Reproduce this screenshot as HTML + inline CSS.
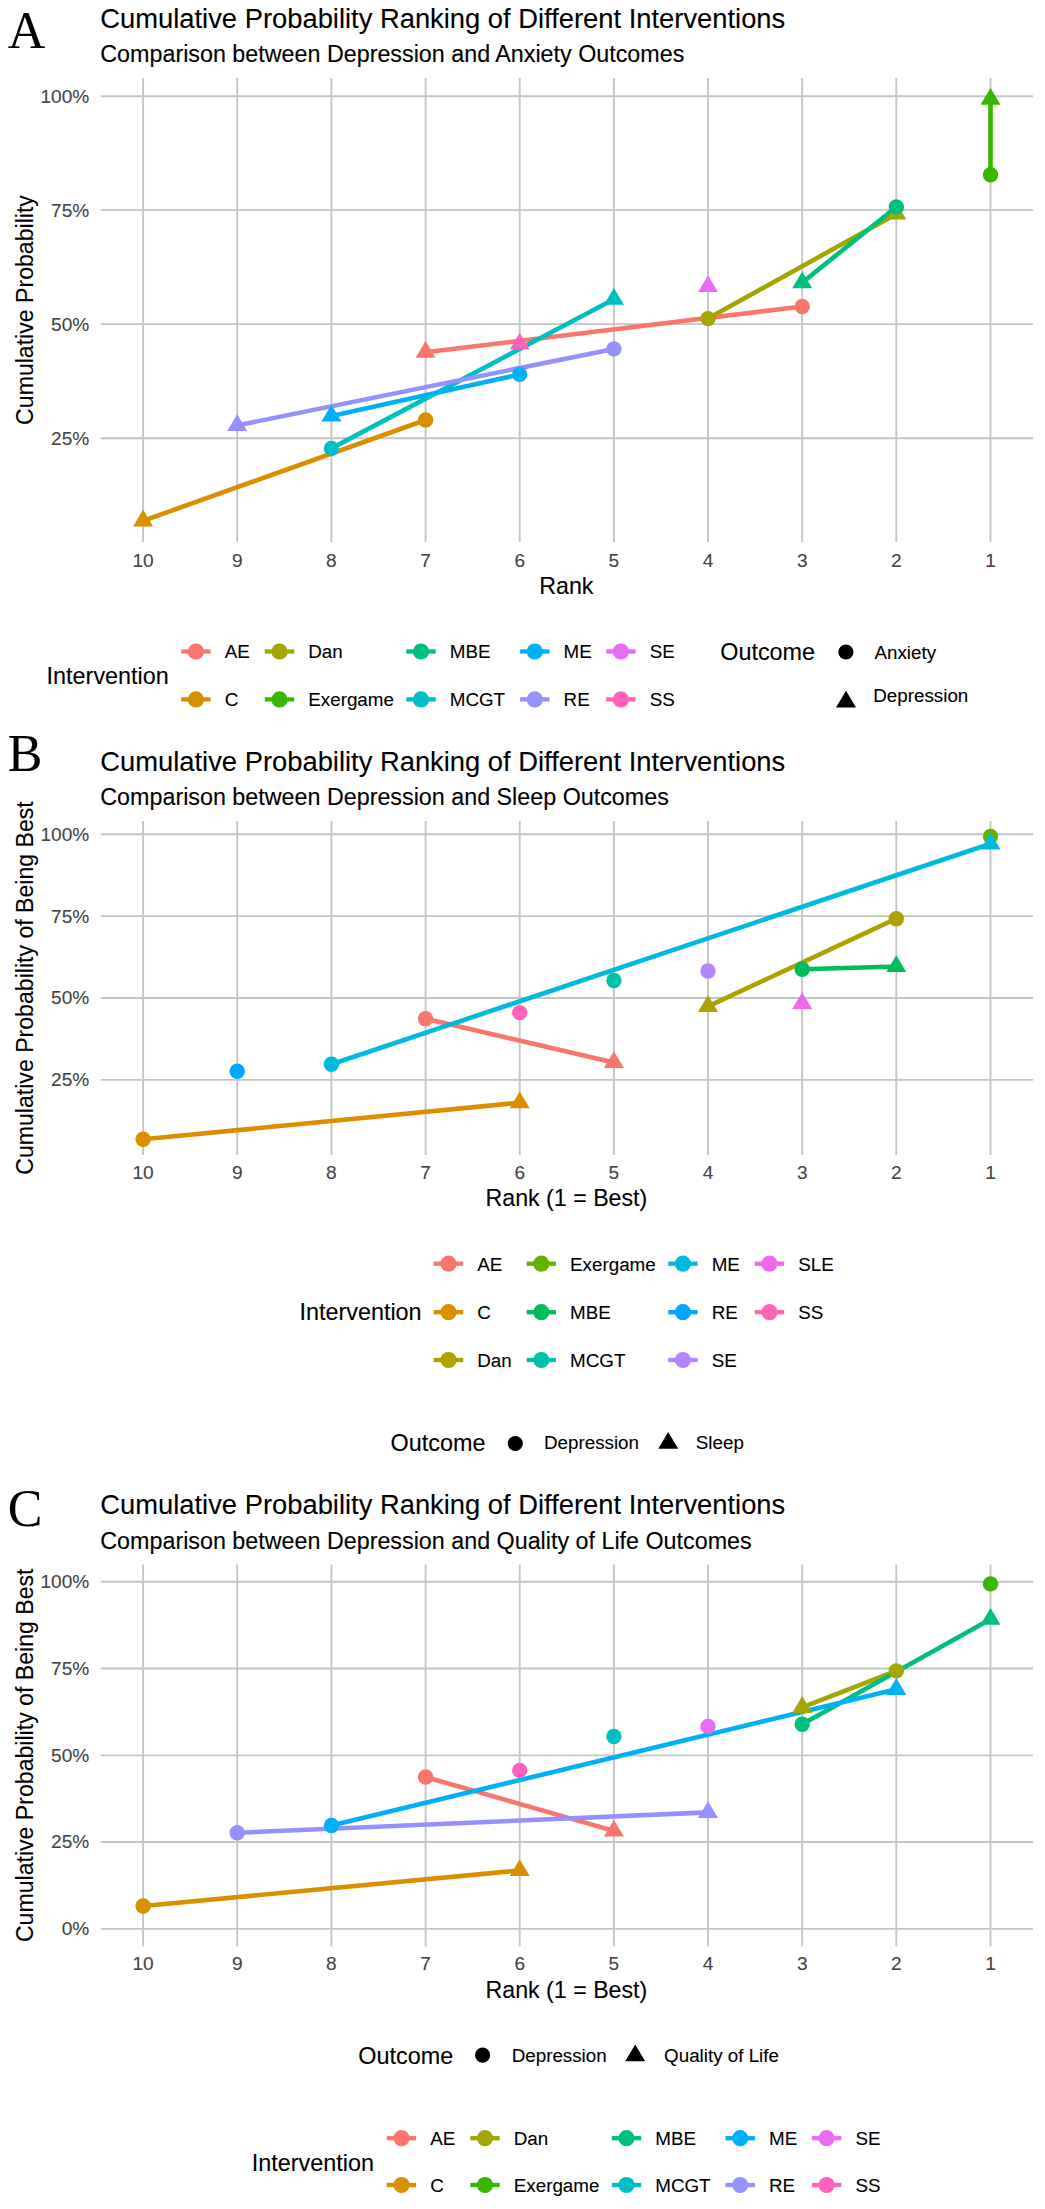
<!DOCTYPE html>
<html><head><meta charset="utf-8"><title>Cumulative Probability Ranking</title>
<style>html,body{margin:0;padding:0;background:#fff;}svg{display:block;}</style></head>
<body><svg width="1045" height="2209" viewBox="0 0 1045 2209">
<rect x="0" y="0" width="1045" height="2209" fill="#fff"/>
<text x="7.8" y="47.7" font-family="'Liberation Serif', serif" font-size="52" text-anchor="start" fill="#000" stroke="#000" stroke-width="0.05" >A</text>
<text x="100.3" y="27.8" font-family="'Liberation Sans', sans-serif" font-size="27.35" text-anchor="start" fill="#000" stroke="#000" stroke-width="0.1" >Cumulative Probability Ranking of Different Interventions</text>
<text x="100.3" y="61.5" font-family="'Liberation Sans', sans-serif" font-size="23.3" text-anchor="start" fill="#000" stroke="#000" stroke-width="0.12" >Comparison between Depression and Anxiety Outcomes</text>
<line x1="990.5" y1="78" x2="990.5" y2="542" stroke="#c5c5c5" stroke-width="1.9"/>
<line x1="896.3" y1="78" x2="896.3" y2="542" stroke="#c5c5c5" stroke-width="1.9"/>
<line x1="802.2" y1="78" x2="802.2" y2="542" stroke="#c5c5c5" stroke-width="1.9"/>
<line x1="708.0" y1="78" x2="708.0" y2="542" stroke="#c5c5c5" stroke-width="1.9"/>
<line x1="613.9" y1="78" x2="613.9" y2="542" stroke="#c5c5c5" stroke-width="1.9"/>
<line x1="519.7" y1="78" x2="519.7" y2="542" stroke="#c5c5c5" stroke-width="1.9"/>
<line x1="425.6" y1="78" x2="425.6" y2="542" stroke="#c5c5c5" stroke-width="1.9"/>
<line x1="331.4" y1="78" x2="331.4" y2="542" stroke="#c5c5c5" stroke-width="1.9"/>
<line x1="237.2" y1="78" x2="237.2" y2="542" stroke="#c5c5c5" stroke-width="1.9"/>
<line x1="143.1" y1="78" x2="143.1" y2="542" stroke="#c5c5c5" stroke-width="1.9"/>
<line x1="100.8" y1="96.2" x2="1033" y2="96.2" stroke="#c5c5c5" stroke-width="1.9"/>
<text x="89.3" y="102.6" font-family="'Liberation Sans', sans-serif" font-size="19.1" text-anchor="end" fill="#444444" stroke="#444444" stroke-width="0.1" >100%</text>
<line x1="100.8" y1="210.1" x2="1033" y2="210.1" stroke="#c5c5c5" stroke-width="1.9"/>
<text x="89.3" y="216.5" font-family="'Liberation Sans', sans-serif" font-size="19.1" text-anchor="end" fill="#444444" stroke="#444444" stroke-width="0.1" >75%</text>
<line x1="100.8" y1="324.1" x2="1033" y2="324.1" stroke="#c5c5c5" stroke-width="1.9"/>
<text x="89.3" y="330.5" font-family="'Liberation Sans', sans-serif" font-size="19.1" text-anchor="end" fill="#444444" stroke="#444444" stroke-width="0.1" >50%</text>
<line x1="100.8" y1="438.2" x2="1033" y2="438.2" stroke="#c5c5c5" stroke-width="1.9"/>
<text x="89.3" y="444.6" font-family="'Liberation Sans', sans-serif" font-size="19.1" text-anchor="end" fill="#444444" stroke="#444444" stroke-width="0.1" >25%</text>
<text x="990.5" y="567.0" font-family="'Liberation Sans', sans-serif" font-size="19.1" text-anchor="middle" fill="#444444" stroke="#444444" stroke-width="0.1" >1</text>
<text x="896.3" y="567.0" font-family="'Liberation Sans', sans-serif" font-size="19.1" text-anchor="middle" fill="#444444" stroke="#444444" stroke-width="0.1" >2</text>
<text x="802.2" y="567.0" font-family="'Liberation Sans', sans-serif" font-size="19.1" text-anchor="middle" fill="#444444" stroke="#444444" stroke-width="0.1" >3</text>
<text x="708.0" y="567.0" font-family="'Liberation Sans', sans-serif" font-size="19.1" text-anchor="middle" fill="#444444" stroke="#444444" stroke-width="0.1" >4</text>
<text x="613.9" y="567.0" font-family="'Liberation Sans', sans-serif" font-size="19.1" text-anchor="middle" fill="#444444" stroke="#444444" stroke-width="0.1" >5</text>
<text x="519.7" y="567.0" font-family="'Liberation Sans', sans-serif" font-size="19.1" text-anchor="middle" fill="#444444" stroke="#444444" stroke-width="0.1" >6</text>
<text x="425.6" y="567.0" font-family="'Liberation Sans', sans-serif" font-size="19.1" text-anchor="middle" fill="#444444" stroke="#444444" stroke-width="0.1" >7</text>
<text x="331.4" y="567.0" font-family="'Liberation Sans', sans-serif" font-size="19.1" text-anchor="middle" fill="#444444" stroke="#444444" stroke-width="0.1" >8</text>
<text x="237.2" y="567.0" font-family="'Liberation Sans', sans-serif" font-size="19.1" text-anchor="middle" fill="#444444" stroke="#444444" stroke-width="0.1" >9</text>
<text x="143.1" y="567.0" font-family="'Liberation Sans', sans-serif" font-size="19.1" text-anchor="middle" fill="#444444" stroke="#444444" stroke-width="0.1" >10</text>
<text x="566.4" y="593.5" font-family="'Liberation Sans', sans-serif" font-size="23.2" text-anchor="middle" fill="#000" stroke="#000" stroke-width="0.1" >Rank</text>
<text x="0" y="0" font-family="&quot;Liberation Sans&quot;, sans-serif" font-size="23.1" text-anchor="middle" fill="#000" stroke="#000" stroke-width="0.1" transform="translate(32.6,310) rotate(-90)">Cumulative Probability</text>
<line x1="425.6" y1="352.2" x2="802.2" y2="306.5" stroke="#F8766D" stroke-width="4.6" stroke-linecap="butt"/>
<line x1="143.1" y1="520.8" x2="425.6" y2="420.0" stroke="#D89000" stroke-width="4.6" stroke-linecap="butt"/>
<line x1="708.0" y1="318.6" x2="896.3" y2="213.9" stroke="#A3A500" stroke-width="4.6" stroke-linecap="butt"/>
<line x1="990.5" y1="174.8" x2="990.5" y2="99.2" stroke="#39B600" stroke-width="4.6" stroke-linecap="butt"/>
<line x1="802.2" y1="282.6" x2="896.3" y2="207.0" stroke="#00BF7D" stroke-width="4.6" stroke-linecap="butt"/>
<line x1="331.4" y1="448.4" x2="613.9" y2="299.2" stroke="#00BFC4" stroke-width="4.6" stroke-linecap="butt"/>
<line x1="331.4" y1="416.0" x2="519.7" y2="374.4" stroke="#00B0F6" stroke-width="4.6" stroke-linecap="butt"/>
<line x1="237.2" y1="425.4" x2="613.9" y2="348.9" stroke="#9590FF" stroke-width="4.6" stroke-linecap="butt"/>
<path d="M425.6,341.0 L435.6,357.8 L415.6,357.8 Z" fill="#F8766D"/>
<circle cx="802.2" cy="306.5" r="7.7" fill="#F8766D"/>
<path d="M143.1,509.6 L153.1,526.4 L133.1,526.4 Z" fill="#D89000"/>
<circle cx="425.6" cy="420.0" r="7.7" fill="#D89000"/>
<circle cx="708.0" cy="318.6" r="7.7" fill="#A3A500"/>
<path d="M896.3,202.7 L906.3,219.5 L886.3,219.5 Z" fill="#A3A500"/>
<circle cx="990.5" cy="174.8" r="7.7" fill="#39B600"/>
<path d="M990.5,88.0 L1000.5,104.8 L980.5,104.8 Z" fill="#39B600"/>
<path d="M802.2,271.4 L812.2,288.2 L792.2,288.2 Z" fill="#00BF7D"/>
<circle cx="896.3" cy="207.0" r="7.7" fill="#00BF7D"/>
<circle cx="331.4" cy="448.4" r="7.7" fill="#00BFC4"/>
<path d="M613.9,288.0 L623.9,304.8 L603.9,304.8 Z" fill="#00BFC4"/>
<path d="M331.4,404.8 L341.4,421.6 L321.4,421.6 Z" fill="#00B0F6"/>
<circle cx="519.7" cy="374.4" r="7.7" fill="#00B0F6"/>
<path d="M237.2,414.2 L247.2,431.0 L227.2,431.0 Z" fill="#9590FF"/>
<circle cx="613.9" cy="348.9" r="7.7" fill="#9590FF"/>
<path d="M708.0,275.2 L718.0,292.0 L698.0,292.0 Z" fill="#E76BF3"/>
<path d="M519.7,332.8 L529.7,349.6 L509.7,349.6 Z" fill="#FF62BC"/>
<text x="46.6" y="683.8" font-family="'Liberation Sans', sans-serif" font-size="23.4" text-anchor="start" fill="#000" stroke="#000" stroke-width="0.1" >Intervention</text>
<line x1="181.2" y1="651.5" x2="210.6" y2="651.5" stroke="#F8766D" stroke-width="4.3" stroke-linecap="butt"/>
<circle cx="195.9" cy="651.5" r="8.1" fill="#F8766D"/>
<text x="224.7" y="658.3" font-family="'Liberation Sans', sans-serif" font-size="18.8" text-anchor="start" fill="#000" stroke="#000" stroke-width="0.1" >AE</text>
<line x1="181.2" y1="699.4" x2="210.6" y2="699.4" stroke="#D89000" stroke-width="4.3" stroke-linecap="butt"/>
<circle cx="195.9" cy="699.4" r="8.1" fill="#D89000"/>
<text x="224.7" y="706.2" font-family="'Liberation Sans', sans-serif" font-size="18.8" text-anchor="start" fill="#000" stroke="#000" stroke-width="0.1" >C</text>
<line x1="264.8" y1="651.5" x2="294.2" y2="651.5" stroke="#A3A500" stroke-width="4.3" stroke-linecap="butt"/>
<circle cx="279.5" cy="651.5" r="8.1" fill="#A3A500"/>
<text x="308.3" y="658.3" font-family="'Liberation Sans', sans-serif" font-size="18.8" text-anchor="start" fill="#000" stroke="#000" stroke-width="0.1" >Dan</text>
<line x1="264.8" y1="699.4" x2="294.2" y2="699.4" stroke="#39B600" stroke-width="4.3" stroke-linecap="butt"/>
<circle cx="279.5" cy="699.4" r="8.1" fill="#39B600"/>
<text x="308.3" y="706.2" font-family="'Liberation Sans', sans-serif" font-size="18.8" text-anchor="start" fill="#000" stroke="#000" stroke-width="0.1" >Exergame</text>
<line x1="406.3" y1="651.5" x2="435.7" y2="651.5" stroke="#00BF7D" stroke-width="4.3" stroke-linecap="butt"/>
<circle cx="421.0" cy="651.5" r="8.1" fill="#00BF7D"/>
<text x="449.8" y="658.3" font-family="'Liberation Sans', sans-serif" font-size="18.8" text-anchor="start" fill="#000" stroke="#000" stroke-width="0.1" >MBE</text>
<line x1="406.3" y1="699.4" x2="435.7" y2="699.4" stroke="#00BFC4" stroke-width="4.3" stroke-linecap="butt"/>
<circle cx="421.0" cy="699.4" r="8.1" fill="#00BFC4"/>
<text x="449.8" y="706.2" font-family="'Liberation Sans', sans-serif" font-size="18.8" text-anchor="start" fill="#000" stroke="#000" stroke-width="0.1" >MCGT</text>
<line x1="520.1" y1="651.5" x2="549.5" y2="651.5" stroke="#00B0F6" stroke-width="4.3" stroke-linecap="butt"/>
<circle cx="534.8" cy="651.5" r="8.1" fill="#00B0F6"/>
<text x="563.6" y="658.3" font-family="'Liberation Sans', sans-serif" font-size="18.8" text-anchor="start" fill="#000" stroke="#000" stroke-width="0.1" >ME</text>
<line x1="520.1" y1="699.4" x2="549.5" y2="699.4" stroke="#9590FF" stroke-width="4.3" stroke-linecap="butt"/>
<circle cx="534.8" cy="699.4" r="8.1" fill="#9590FF"/>
<text x="563.6" y="706.2" font-family="'Liberation Sans', sans-serif" font-size="18.8" text-anchor="start" fill="#000" stroke="#000" stroke-width="0.1" >RE</text>
<line x1="606.2" y1="651.5" x2="635.6" y2="651.5" stroke="#E76BF3" stroke-width="4.3" stroke-linecap="butt"/>
<circle cx="620.9" cy="651.5" r="8.1" fill="#E76BF3"/>
<text x="649.7" y="658.3" font-family="'Liberation Sans', sans-serif" font-size="18.8" text-anchor="start" fill="#000" stroke="#000" stroke-width="0.1" >SE</text>
<line x1="606.2" y1="699.4" x2="635.6" y2="699.4" stroke="#FF62BC" stroke-width="4.3" stroke-linecap="butt"/>
<circle cx="620.9" cy="699.4" r="8.1" fill="#FF62BC"/>
<text x="649.7" y="706.2" font-family="'Liberation Sans', sans-serif" font-size="18.8" text-anchor="start" fill="#000" stroke="#000" stroke-width="0.1" >SS</text>
<text x="720.2" y="659.5" font-family="'Liberation Sans', sans-serif" font-size="23.4" text-anchor="start" fill="#000" stroke="#000" stroke-width="0.1" >Outcome</text>
<circle cx="845.9" cy="652.0" r="7.6" fill="#000"/>
<text x="874.5" y="659.0" font-family="'Liberation Sans', sans-serif" font-size="18.8" text-anchor="start" fill="#000" stroke="#000" stroke-width="0.1" >Anxiety</text>
<path d="M846.0,690.7 L856.0,707.5 L836.0,707.5 Z" fill="#000"/>
<text x="873.3" y="702.3" font-family="'Liberation Sans', sans-serif" font-size="18.8" text-anchor="start" fill="#000" stroke="#000" stroke-width="0.1" >Depression</text>
<text x="7.8" y="770.9" font-family="'Liberation Serif', serif" font-size="52" text-anchor="start" fill="#000" stroke="#000" stroke-width="0.05" >B</text>
<text x="100.3" y="770.5" font-family="'Liberation Sans', sans-serif" font-size="27.35" text-anchor="start" fill="#000" stroke="#000" stroke-width="0.1" >Cumulative Probability Ranking of Different Interventions</text>
<text x="100.3" y="805.0" font-family="'Liberation Sans', sans-serif" font-size="23.3" text-anchor="start" fill="#000" stroke="#000" stroke-width="0.12" >Comparison between Depression and Sleep Outcomes</text>
<line x1="990.5" y1="821" x2="990.5" y2="1155" stroke="#c5c5c5" stroke-width="1.9"/>
<line x1="896.3" y1="821" x2="896.3" y2="1155" stroke="#c5c5c5" stroke-width="1.9"/>
<line x1="802.2" y1="821" x2="802.2" y2="1155" stroke="#c5c5c5" stroke-width="1.9"/>
<line x1="708.0" y1="821" x2="708.0" y2="1155" stroke="#c5c5c5" stroke-width="1.9"/>
<line x1="613.9" y1="821" x2="613.9" y2="1155" stroke="#c5c5c5" stroke-width="1.9"/>
<line x1="519.7" y1="821" x2="519.7" y2="1155" stroke="#c5c5c5" stroke-width="1.9"/>
<line x1="425.6" y1="821" x2="425.6" y2="1155" stroke="#c5c5c5" stroke-width="1.9"/>
<line x1="331.4" y1="821" x2="331.4" y2="1155" stroke="#c5c5c5" stroke-width="1.9"/>
<line x1="237.2" y1="821" x2="237.2" y2="1155" stroke="#c5c5c5" stroke-width="1.9"/>
<line x1="143.1" y1="821" x2="143.1" y2="1155" stroke="#c5c5c5" stroke-width="1.9"/>
<line x1="100.8" y1="834.3" x2="1033" y2="834.3" stroke="#c5c5c5" stroke-width="1.9"/>
<text x="89.3" y="840.7" font-family="'Liberation Sans', sans-serif" font-size="19.1" text-anchor="end" fill="#444444" stroke="#444444" stroke-width="0.1" >100%</text>
<line x1="100.8" y1="916.1" x2="1033" y2="916.1" stroke="#c5c5c5" stroke-width="1.9"/>
<text x="89.3" y="922.5" font-family="'Liberation Sans', sans-serif" font-size="19.1" text-anchor="end" fill="#444444" stroke="#444444" stroke-width="0.1" >75%</text>
<line x1="100.8" y1="998.0" x2="1033" y2="998.0" stroke="#c5c5c5" stroke-width="1.9"/>
<text x="89.3" y="1004.4" font-family="'Liberation Sans', sans-serif" font-size="19.1" text-anchor="end" fill="#444444" stroke="#444444" stroke-width="0.1" >50%</text>
<line x1="100.8" y1="1079.9" x2="1033" y2="1079.9" stroke="#c5c5c5" stroke-width="1.9"/>
<text x="89.3" y="1086.3" font-family="'Liberation Sans', sans-serif" font-size="19.1" text-anchor="end" fill="#444444" stroke="#444444" stroke-width="0.1" >25%</text>
<text x="990.5" y="1179.2" font-family="'Liberation Sans', sans-serif" font-size="19.1" text-anchor="middle" fill="#444444" stroke="#444444" stroke-width="0.1" >1</text>
<text x="896.3" y="1179.2" font-family="'Liberation Sans', sans-serif" font-size="19.1" text-anchor="middle" fill="#444444" stroke="#444444" stroke-width="0.1" >2</text>
<text x="802.2" y="1179.2" font-family="'Liberation Sans', sans-serif" font-size="19.1" text-anchor="middle" fill="#444444" stroke="#444444" stroke-width="0.1" >3</text>
<text x="708.0" y="1179.2" font-family="'Liberation Sans', sans-serif" font-size="19.1" text-anchor="middle" fill="#444444" stroke="#444444" stroke-width="0.1" >4</text>
<text x="613.9" y="1179.2" font-family="'Liberation Sans', sans-serif" font-size="19.1" text-anchor="middle" fill="#444444" stroke="#444444" stroke-width="0.1" >5</text>
<text x="519.7" y="1179.2" font-family="'Liberation Sans', sans-serif" font-size="19.1" text-anchor="middle" fill="#444444" stroke="#444444" stroke-width="0.1" >6</text>
<text x="425.6" y="1179.2" font-family="'Liberation Sans', sans-serif" font-size="19.1" text-anchor="middle" fill="#444444" stroke="#444444" stroke-width="0.1" >7</text>
<text x="331.4" y="1179.2" font-family="'Liberation Sans', sans-serif" font-size="19.1" text-anchor="middle" fill="#444444" stroke="#444444" stroke-width="0.1" >8</text>
<text x="237.2" y="1179.2" font-family="'Liberation Sans', sans-serif" font-size="19.1" text-anchor="middle" fill="#444444" stroke="#444444" stroke-width="0.1" >9</text>
<text x="143.1" y="1179.2" font-family="'Liberation Sans', sans-serif" font-size="19.1" text-anchor="middle" fill="#444444" stroke="#444444" stroke-width="0.1" >10</text>
<text x="566.4" y="1206.0" font-family="'Liberation Sans', sans-serif" font-size="23.2" text-anchor="middle" fill="#000" stroke="#000" stroke-width="0.1" >Rank (1 = Best)</text>
<text x="0" y="0" font-family="&quot;Liberation Sans&quot;, sans-serif" font-size="23.1" text-anchor="middle" fill="#000" stroke="#000" stroke-width="0.1" transform="translate(32.6,988) rotate(-90)">Cumulative Probability of Being Best</text>
<line x1="425.6" y1="1018.8" x2="613.9" y2="1062.5" stroke="#F8766D" stroke-width="4.6" stroke-linecap="butt"/>
<line x1="143.1" y1="1139.3" x2="519.7" y2="1102.7" stroke="#DB8E00" stroke-width="4.6" stroke-linecap="butt"/>
<line x1="896.3" y1="918.7" x2="708.0" y2="1006.3" stroke="#AEA200" stroke-width="4.6" stroke-linecap="butt"/>
<line x1="802.2" y1="969.2" x2="896.3" y2="966.5" stroke="#00BD5C" stroke-width="4.6" stroke-linecap="butt"/>
<line x1="331.4" y1="1064.3" x2="990.5" y2="843.8" stroke="#00BADE" stroke-width="4.6" stroke-linecap="butt"/>
<circle cx="425.6" cy="1018.8" r="7.7" fill="#F8766D"/>
<path d="M613.9,1051.3 L623.9,1068.1 L603.9,1068.1 Z" fill="#F8766D"/>
<circle cx="143.1" cy="1139.3" r="7.7" fill="#DB8E00"/>
<path d="M519.7,1091.5 L529.7,1108.3 L509.7,1108.3 Z" fill="#DB8E00"/>
<circle cx="896.3" cy="918.7" r="7.7" fill="#AEA200"/>
<path d="M708.0,995.1 L718.0,1011.9 L698.0,1011.9 Z" fill="#AEA200"/>
<circle cx="990.5" cy="836.5" r="7.7" fill="#64B200"/>
<circle cx="802.2" cy="969.2" r="7.7" fill="#00BD5C"/>
<path d="M896.3,955.3 L906.3,972.1 L886.3,972.1 Z" fill="#00BD5C"/>
<circle cx="613.9" cy="980.5" r="7.7" fill="#00C1A7"/>
<circle cx="331.4" cy="1064.3" r="7.7" fill="#00BADE"/>
<path d="M990.5,832.6 L1000.5,849.4 L980.5,849.4 Z" fill="#00BADE"/>
<circle cx="237.2" cy="1071.2" r="7.7" fill="#00A6FF"/>
<circle cx="708.0" cy="971.0" r="7.7" fill="#B385FF"/>
<path d="M802.2,992.2 L812.2,1009.0 L792.2,1009.0 Z" fill="#EF67EB"/>
<circle cx="519.7" cy="1012.6" r="7.7" fill="#FF63B6"/>
<text x="299.4" y="1320.4" font-family="'Liberation Sans', sans-serif" font-size="23.4" text-anchor="start" fill="#000" stroke="#000" stroke-width="0.1" >Intervention</text>
<line x1="433.8" y1="1263.7" x2="463.2" y2="1263.7" stroke="#F8766D" stroke-width="4.3" stroke-linecap="butt"/>
<circle cx="448.5" cy="1263.7" r="8.1" fill="#F8766D"/>
<text x="477.3" y="1270.5" font-family="'Liberation Sans', sans-serif" font-size="18.8" text-anchor="start" fill="#000" stroke="#000" stroke-width="0.1" >AE</text>
<line x1="433.8" y1="1312.2" x2="463.2" y2="1312.2" stroke="#DB8E00" stroke-width="4.3" stroke-linecap="butt"/>
<circle cx="448.5" cy="1312.2" r="8.1" fill="#DB8E00"/>
<text x="477.3" y="1319.0" font-family="'Liberation Sans', sans-serif" font-size="18.8" text-anchor="start" fill="#000" stroke="#000" stroke-width="0.1" >C</text>
<line x1="433.8" y1="1360.0" x2="463.2" y2="1360.0" stroke="#AEA200" stroke-width="4.3" stroke-linecap="butt"/>
<circle cx="448.5" cy="1360.0" r="8.1" fill="#AEA200"/>
<text x="477.3" y="1366.8" font-family="'Liberation Sans', sans-serif" font-size="18.8" text-anchor="start" fill="#000" stroke="#000" stroke-width="0.1" >Dan</text>
<line x1="526.6" y1="1263.7" x2="556.0" y2="1263.7" stroke="#64B200" stroke-width="4.3" stroke-linecap="butt"/>
<circle cx="541.3" cy="1263.7" r="8.1" fill="#64B200"/>
<text x="570.1" y="1270.5" font-family="'Liberation Sans', sans-serif" font-size="18.8" text-anchor="start" fill="#000" stroke="#000" stroke-width="0.1" >Exergame</text>
<line x1="526.6" y1="1312.2" x2="556.0" y2="1312.2" stroke="#00BD5C" stroke-width="4.3" stroke-linecap="butt"/>
<circle cx="541.3" cy="1312.2" r="8.1" fill="#00BD5C"/>
<text x="570.1" y="1319.0" font-family="'Liberation Sans', sans-serif" font-size="18.8" text-anchor="start" fill="#000" stroke="#000" stroke-width="0.1" >MBE</text>
<line x1="526.6" y1="1360.0" x2="556.0" y2="1360.0" stroke="#00C1A7" stroke-width="4.3" stroke-linecap="butt"/>
<circle cx="541.3" cy="1360.0" r="8.1" fill="#00C1A7"/>
<text x="570.1" y="1366.8" font-family="'Liberation Sans', sans-serif" font-size="18.8" text-anchor="start" fill="#000" stroke="#000" stroke-width="0.1" >MCGT</text>
<line x1="668.2" y1="1263.7" x2="697.6" y2="1263.7" stroke="#00BADE" stroke-width="4.3" stroke-linecap="butt"/>
<circle cx="682.9" cy="1263.7" r="8.1" fill="#00BADE"/>
<text x="711.7" y="1270.5" font-family="'Liberation Sans', sans-serif" font-size="18.8" text-anchor="start" fill="#000" stroke="#000" stroke-width="0.1" >ME</text>
<line x1="668.2" y1="1312.2" x2="697.6" y2="1312.2" stroke="#00A6FF" stroke-width="4.3" stroke-linecap="butt"/>
<circle cx="682.9" cy="1312.2" r="8.1" fill="#00A6FF"/>
<text x="711.7" y="1319.0" font-family="'Liberation Sans', sans-serif" font-size="18.8" text-anchor="start" fill="#000" stroke="#000" stroke-width="0.1" >RE</text>
<line x1="668.2" y1="1360.0" x2="697.6" y2="1360.0" stroke="#B385FF" stroke-width="4.3" stroke-linecap="butt"/>
<circle cx="682.9" cy="1360.0" r="8.1" fill="#B385FF"/>
<text x="711.7" y="1366.8" font-family="'Liberation Sans', sans-serif" font-size="18.8" text-anchor="start" fill="#000" stroke="#000" stroke-width="0.1" >SE</text>
<line x1="754.8" y1="1263.7" x2="784.2" y2="1263.7" stroke="#EF67EB" stroke-width="4.3" stroke-linecap="butt"/>
<circle cx="769.5" cy="1263.7" r="8.1" fill="#EF67EB"/>
<text x="798.3" y="1270.5" font-family="'Liberation Sans', sans-serif" font-size="18.8" text-anchor="start" fill="#000" stroke="#000" stroke-width="0.1" >SLE</text>
<line x1="754.8" y1="1312.2" x2="784.2" y2="1312.2" stroke="#FF63B6" stroke-width="4.3" stroke-linecap="butt"/>
<circle cx="769.5" cy="1312.2" r="8.1" fill="#FF63B6"/>
<text x="798.3" y="1319.0" font-family="'Liberation Sans', sans-serif" font-size="18.8" text-anchor="start" fill="#000" stroke="#000" stroke-width="0.1" >SS</text>
<text x="390.5" y="1450.7" font-family="'Liberation Sans', sans-serif" font-size="23.4" text-anchor="start" fill="#000" stroke="#000" stroke-width="0.1" >Outcome</text>
<circle cx="515.3" cy="1443.5" r="7.6" fill="#000"/>
<text x="544.0" y="1449.2" font-family="'Liberation Sans', sans-serif" font-size="18.8" text-anchor="start" fill="#000" stroke="#000" stroke-width="0.1" >Depression</text>
<path d="M668.2,1432.0 L678.2,1448.8 L658.2,1448.8 Z" fill="#000"/>
<text x="695.8" y="1449.2" font-family="'Liberation Sans', sans-serif" font-size="18.8" text-anchor="start" fill="#000" stroke="#000" stroke-width="0.1" >Sleep</text>
<text x="7.8" y="1526.0" font-family="'Liberation Serif', serif" font-size="52" text-anchor="start" fill="#000" stroke="#000" stroke-width="0.05" >C</text>
<text x="100.3" y="1514.0" font-family="'Liberation Sans', sans-serif" font-size="27.35" text-anchor="start" fill="#000" stroke="#000" stroke-width="0.1" >Cumulative Probability Ranking of Different Interventions</text>
<text x="100.3" y="1548.7" font-family="'Liberation Sans', sans-serif" font-size="23.3" text-anchor="start" fill="#000" stroke="#000" stroke-width="0.12" >Comparison between Depression and Quality of Life Outcomes</text>
<line x1="990.5" y1="1564.5" x2="990.5" y2="1946.2" stroke="#c5c5c5" stroke-width="1.9"/>
<line x1="896.3" y1="1564.5" x2="896.3" y2="1946.2" stroke="#c5c5c5" stroke-width="1.9"/>
<line x1="802.2" y1="1564.5" x2="802.2" y2="1946.2" stroke="#c5c5c5" stroke-width="1.9"/>
<line x1="708.0" y1="1564.5" x2="708.0" y2="1946.2" stroke="#c5c5c5" stroke-width="1.9"/>
<line x1="613.9" y1="1564.5" x2="613.9" y2="1946.2" stroke="#c5c5c5" stroke-width="1.9"/>
<line x1="519.7" y1="1564.5" x2="519.7" y2="1946.2" stroke="#c5c5c5" stroke-width="1.9"/>
<line x1="425.6" y1="1564.5" x2="425.6" y2="1946.2" stroke="#c5c5c5" stroke-width="1.9"/>
<line x1="331.4" y1="1564.5" x2="331.4" y2="1946.2" stroke="#c5c5c5" stroke-width="1.9"/>
<line x1="237.2" y1="1564.5" x2="237.2" y2="1946.2" stroke="#c5c5c5" stroke-width="1.9"/>
<line x1="143.1" y1="1564.5" x2="143.1" y2="1946.2" stroke="#c5c5c5" stroke-width="1.9"/>
<line x1="100.8" y1="1581.7" x2="1033" y2="1581.7" stroke="#c5c5c5" stroke-width="1.9"/>
<text x="89.3" y="1588.1" font-family="'Liberation Sans', sans-serif" font-size="19.1" text-anchor="end" fill="#444444" stroke="#444444" stroke-width="0.1" >100%</text>
<line x1="100.8" y1="1668.5" x2="1033" y2="1668.5" stroke="#c5c5c5" stroke-width="1.9"/>
<text x="89.3" y="1674.9" font-family="'Liberation Sans', sans-serif" font-size="19.1" text-anchor="end" fill="#444444" stroke="#444444" stroke-width="0.1" >75%</text>
<line x1="100.8" y1="1755.4" x2="1033" y2="1755.4" stroke="#c5c5c5" stroke-width="1.9"/>
<text x="89.3" y="1761.8" font-family="'Liberation Sans', sans-serif" font-size="19.1" text-anchor="end" fill="#444444" stroke="#444444" stroke-width="0.1" >50%</text>
<line x1="100.8" y1="1842.0" x2="1033" y2="1842.0" stroke="#c5c5c5" stroke-width="1.9"/>
<text x="89.3" y="1848.4" font-family="'Liberation Sans', sans-serif" font-size="19.1" text-anchor="end" fill="#444444" stroke="#444444" stroke-width="0.1" >25%</text>
<line x1="100.8" y1="1928.9" x2="1033" y2="1928.9" stroke="#c5c5c5" stroke-width="1.9"/>
<text x="89.3" y="1935.3" font-family="'Liberation Sans', sans-serif" font-size="19.1" text-anchor="end" fill="#444444" stroke="#444444" stroke-width="0.1" >0%</text>
<text x="990.5" y="1970.2" font-family="'Liberation Sans', sans-serif" font-size="19.1" text-anchor="middle" fill="#444444" stroke="#444444" stroke-width="0.1" >1</text>
<text x="896.3" y="1970.2" font-family="'Liberation Sans', sans-serif" font-size="19.1" text-anchor="middle" fill="#444444" stroke="#444444" stroke-width="0.1" >2</text>
<text x="802.2" y="1970.2" font-family="'Liberation Sans', sans-serif" font-size="19.1" text-anchor="middle" fill="#444444" stroke="#444444" stroke-width="0.1" >3</text>
<text x="708.0" y="1970.2" font-family="'Liberation Sans', sans-serif" font-size="19.1" text-anchor="middle" fill="#444444" stroke="#444444" stroke-width="0.1" >4</text>
<text x="613.9" y="1970.2" font-family="'Liberation Sans', sans-serif" font-size="19.1" text-anchor="middle" fill="#444444" stroke="#444444" stroke-width="0.1" >5</text>
<text x="519.7" y="1970.2" font-family="'Liberation Sans', sans-serif" font-size="19.1" text-anchor="middle" fill="#444444" stroke="#444444" stroke-width="0.1" >6</text>
<text x="425.6" y="1970.2" font-family="'Liberation Sans', sans-serif" font-size="19.1" text-anchor="middle" fill="#444444" stroke="#444444" stroke-width="0.1" >7</text>
<text x="331.4" y="1970.2" font-family="'Liberation Sans', sans-serif" font-size="19.1" text-anchor="middle" fill="#444444" stroke="#444444" stroke-width="0.1" >8</text>
<text x="237.2" y="1970.2" font-family="'Liberation Sans', sans-serif" font-size="19.1" text-anchor="middle" fill="#444444" stroke="#444444" stroke-width="0.1" >9</text>
<text x="143.1" y="1970.2" font-family="'Liberation Sans', sans-serif" font-size="19.1" text-anchor="middle" fill="#444444" stroke="#444444" stroke-width="0.1" >10</text>
<text x="566.4" y="1998.3" font-family="'Liberation Sans', sans-serif" font-size="23.2" text-anchor="middle" fill="#000" stroke="#000" stroke-width="0.1" >Rank (1 = Best)</text>
<text x="0" y="0" font-family="&quot;Liberation Sans&quot;, sans-serif" font-size="23.1" text-anchor="middle" fill="#000" stroke="#000" stroke-width="0.1" transform="translate(32.6,1755.3) rotate(-90)">Cumulative Probability of Being Best</text>
<line x1="425.6" y1="1777.0" x2="613.9" y2="1830.9" stroke="#F8766D" stroke-width="4.6" stroke-linecap="butt"/>
<line x1="143.1" y1="1906.0" x2="519.7" y2="1870.4" stroke="#D89000" stroke-width="4.6" stroke-linecap="butt"/>
<line x1="896.3" y1="1670.9" x2="802.2" y2="1707.3" stroke="#A3A500" stroke-width="4.6" stroke-linecap="butt"/>
<line x1="802.2" y1="1724.3" x2="990.5" y2="1619.2" stroke="#00BF7D" stroke-width="4.6" stroke-linecap="butt"/>
<line x1="331.4" y1="1825.5" x2="896.3" y2="1689.3" stroke="#00B0F6" stroke-width="4.6" stroke-linecap="butt"/>
<line x1="237.2" y1="1832.8" x2="708.0" y2="1812.4" stroke="#9590FF" stroke-width="4.6" stroke-linecap="butt"/>
<circle cx="425.6" cy="1777.0" r="7.7" fill="#F8766D"/>
<path d="M613.9,1819.7 L623.9,1836.5 L603.9,1836.5 Z" fill="#F8766D"/>
<circle cx="143.1" cy="1906.0" r="7.7" fill="#D89000"/>
<path d="M519.7,1859.2 L529.7,1876.0 L509.7,1876.0 Z" fill="#D89000"/>
<circle cx="896.3" cy="1670.9" r="7.7" fill="#A3A500"/>
<path d="M802.2,1696.1 L812.2,1712.9 L792.2,1712.9 Z" fill="#A3A500"/>
<circle cx="990.5" cy="1583.9" r="7.7" fill="#39B600"/>
<circle cx="802.2" cy="1724.3" r="7.7" fill="#00BF7D"/>
<path d="M990.5,1608.0 L1000.5,1624.8 L980.5,1624.8 Z" fill="#00BF7D"/>
<circle cx="613.9" cy="1736.5" r="7.7" fill="#00BFC4"/>
<circle cx="331.4" cy="1825.5" r="7.7" fill="#00B0F6"/>
<path d="M896.3,1678.1 L906.3,1694.9 L886.3,1694.9 Z" fill="#00B0F6"/>
<circle cx="237.2" cy="1832.8" r="7.7" fill="#9590FF"/>
<path d="M708.0,1801.2 L718.0,1818.0 L698.0,1818.0 Z" fill="#9590FF"/>
<circle cx="708.0" cy="1726.4" r="7.7" fill="#E76BF3"/>
<circle cx="519.7" cy="1770.4" r="7.7" fill="#FF62BC"/>
<text x="358.3" y="2064.0" font-family="'Liberation Sans', sans-serif" font-size="23.4" text-anchor="start" fill="#000" stroke="#000" stroke-width="0.1" >Outcome</text>
<circle cx="482.6" cy="2055.1" r="7.6" fill="#000"/>
<text x="511.7" y="2062.0" font-family="'Liberation Sans', sans-serif" font-size="18.8" text-anchor="start" fill="#000" stroke="#000" stroke-width="0.1" >Depression</text>
<path d="M635.2,2044.4 L645.2,2061.2 L625.2,2061.2 Z" fill="#000"/>
<text x="664.1" y="2061.8" font-family="'Liberation Sans', sans-serif" font-size="18.8" text-anchor="start" fill="#000" stroke="#000" stroke-width="0.1" >Quality of Life</text>
<text x="251.7" y="2170.6" font-family="'Liberation Sans', sans-serif" font-size="23.4" text-anchor="start" fill="#000" stroke="#000" stroke-width="0.1" >Intervention</text>
<line x1="386.8" y1="2138.2" x2="416.2" y2="2138.2" stroke="#F8766D" stroke-width="4.3" stroke-linecap="butt"/>
<circle cx="401.5" cy="2138.2" r="8.1" fill="#F8766D"/>
<text x="430.3" y="2145.0" font-family="'Liberation Sans', sans-serif" font-size="18.8" text-anchor="start" fill="#000" stroke="#000" stroke-width="0.1" >AE</text>
<line x1="386.8" y1="2185.0" x2="416.2" y2="2185.0" stroke="#D89000" stroke-width="4.3" stroke-linecap="butt"/>
<circle cx="401.5" cy="2185.0" r="8.1" fill="#D89000"/>
<text x="430.3" y="2191.8" font-family="'Liberation Sans', sans-serif" font-size="18.8" text-anchor="start" fill="#000" stroke="#000" stroke-width="0.1" >C</text>
<line x1="470.3" y1="2138.2" x2="499.7" y2="2138.2" stroke="#A3A500" stroke-width="4.3" stroke-linecap="butt"/>
<circle cx="485.0" cy="2138.2" r="8.1" fill="#A3A500"/>
<text x="513.8" y="2145.0" font-family="'Liberation Sans', sans-serif" font-size="18.8" text-anchor="start" fill="#000" stroke="#000" stroke-width="0.1" >Dan</text>
<line x1="470.3" y1="2185.0" x2="499.7" y2="2185.0" stroke="#39B600" stroke-width="4.3" stroke-linecap="butt"/>
<circle cx="485.0" cy="2185.0" r="8.1" fill="#39B600"/>
<text x="513.8" y="2191.8" font-family="'Liberation Sans', sans-serif" font-size="18.8" text-anchor="start" fill="#000" stroke="#000" stroke-width="0.1" >Exergame</text>
<line x1="611.8" y1="2138.2" x2="641.2" y2="2138.2" stroke="#00BF7D" stroke-width="4.3" stroke-linecap="butt"/>
<circle cx="626.5" cy="2138.2" r="8.1" fill="#00BF7D"/>
<text x="655.3" y="2145.0" font-family="'Liberation Sans', sans-serif" font-size="18.8" text-anchor="start" fill="#000" stroke="#000" stroke-width="0.1" >MBE</text>
<line x1="611.8" y1="2185.0" x2="641.2" y2="2185.0" stroke="#00BFC4" stroke-width="4.3" stroke-linecap="butt"/>
<circle cx="626.5" cy="2185.0" r="8.1" fill="#00BFC4"/>
<text x="655.3" y="2191.8" font-family="'Liberation Sans', sans-serif" font-size="18.8" text-anchor="start" fill="#000" stroke="#000" stroke-width="0.1" >MCGT</text>
<line x1="725.5" y1="2138.2" x2="754.9" y2="2138.2" stroke="#00B0F6" stroke-width="4.3" stroke-linecap="butt"/>
<circle cx="740.2" cy="2138.2" r="8.1" fill="#00B0F6"/>
<text x="769.0" y="2145.0" font-family="'Liberation Sans', sans-serif" font-size="18.8" text-anchor="start" fill="#000" stroke="#000" stroke-width="0.1" >ME</text>
<line x1="725.5" y1="2185.0" x2="754.9" y2="2185.0" stroke="#9590FF" stroke-width="4.3" stroke-linecap="butt"/>
<circle cx="740.2" cy="2185.0" r="8.1" fill="#9590FF"/>
<text x="769.0" y="2191.8" font-family="'Liberation Sans', sans-serif" font-size="18.8" text-anchor="start" fill="#000" stroke="#000" stroke-width="0.1" >RE</text>
<line x1="811.9" y1="2138.2" x2="841.3" y2="2138.2" stroke="#E76BF3" stroke-width="4.3" stroke-linecap="butt"/>
<circle cx="826.6" cy="2138.2" r="8.1" fill="#E76BF3"/>
<text x="855.4" y="2145.0" font-family="'Liberation Sans', sans-serif" font-size="18.8" text-anchor="start" fill="#000" stroke="#000" stroke-width="0.1" >SE</text>
<line x1="811.9" y1="2185.0" x2="841.3" y2="2185.0" stroke="#FF62BC" stroke-width="4.3" stroke-linecap="butt"/>
<circle cx="826.6" cy="2185.0" r="8.1" fill="#FF62BC"/>
<text x="855.4" y="2191.8" font-family="'Liberation Sans', sans-serif" font-size="18.8" text-anchor="start" fill="#000" stroke="#000" stroke-width="0.1" >SS</text>
</svg></body></html>
